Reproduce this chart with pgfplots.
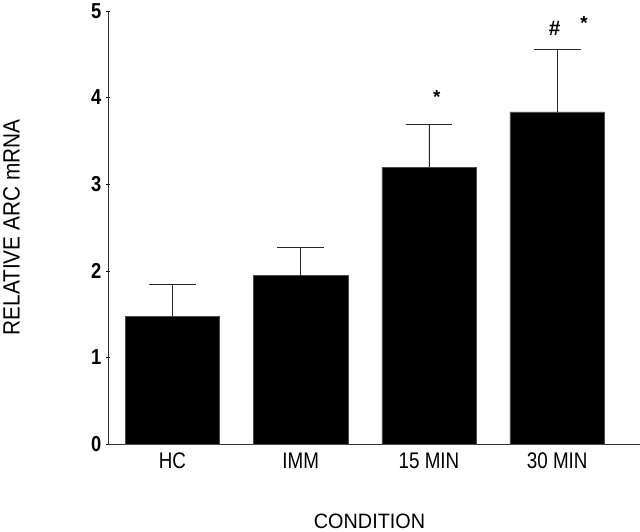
\documentclass[border=0pt]{standalone}
\usepackage{fontspec}
\setmainfont{Liberation Sans}
\usepackage{graphicx}
\usepackage{pgfplots}
\pgfplotsset{compat=1.18}
\newcommand\tall[2][1.2]{\scalebox{1}[#1]{#2}}
\begin{document}
\begin{tikzpicture}[x=1bp,y=1bp]
\begin{axis}[
  width=535bp, height=436bp, scale only axis=true,
  ybar, bar width=95bp,
  xmin=-0.504, xmax=3.643,
  ymin=0, ymax=5,
  ytick={0,1,2,3,4,5},
  yticklabels={\tall[1.18]{0},\tall[1.18]{1},\tall[1.18]{2},\tall[1.18]{3},\tall[1.18]{4},\tall[1.18]{5}},
  xtick={0,1,2,3},
  xticklabels={\tall{HC},\tall{IMM},\tall{15 MIN},\tall{30 MIN}},
  x tick style={draw=none},
  y tick style={black, line width=0.6pt},
  tick align=outside,
  major tick length=4bp,
  axis x line=bottom, axis y line=left,
  axis line style={-, line width=0.7pt, black!80},
  yticklabel style={font=\fontsize{18.5}{22}\selectfont\bfseries, xshift=-1bp},
  xticklabel style={font=\fontsize{19}{22}\selectfont, yshift=-3bp},
  ylabel={\tall[1.13]{RELATIVE ARC mRNA}},
  xlabel={\tall[1.05]{CONDITION}},
  xlabel style={font=\fontsize{20}{24}\selectfont, at={(axis description cs:0.492,-0.177)}, anchor=center},
  ylabel style={font=\fontsize{21}{24}\selectfont, at={(axis description cs:-0.181,0.50)}, anchor=center},
  clip=false,
]
\addplot[fill=black, draw=black!70, line width=0.5pt,
  error bars/.cd, y dir=plus, y explicit,
  error bar style={line width=0.8pt, black!85},
  error mark options={rotate=90, mark size=23.5bp, line width=0.8pt, black!85}]
  coordinates {
  (0,1.478) +- (0,0.367)
  (1,1.945) +- (0,0.325)
  (2,3.196) +- (0,0.489)
  (3,3.835) +- (0,0.720)
};
\node[font=\fontsize{19}{20}\selectfont\bfseries] at (axis cs:2.06,4.0) {*};
\node[font=\fontsize{21}{24}\selectfont\bfseries] at (axis cs:2.98,4.80) {\#};
\node[font=\fontsize{19}{20}\selectfont\bfseries] at (axis cs:3.21,4.86) {*};
\end{axis}
\end{tikzpicture}
\end{document}
